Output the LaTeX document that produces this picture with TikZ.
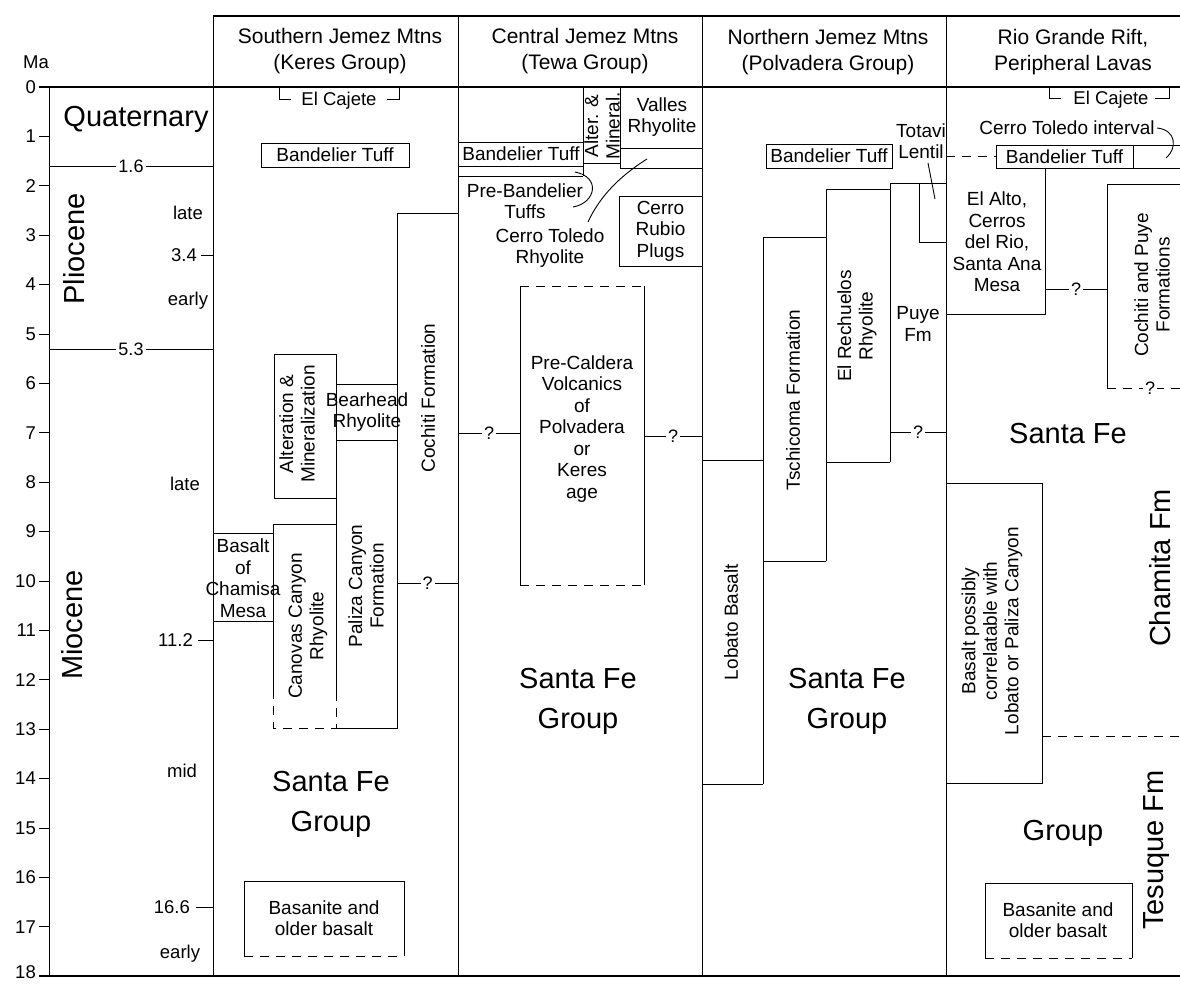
\documentclass[tikz,border=0pt]{standalone}
\usepackage{fontspec}
\setmainfont{Liberation Sans}
\newcommand{\myfs}[2]{\fontsize{#1}{#2}\selectfont}
\begin{document}
\begin{tikzpicture}[x=1pt,y=-1pt,
  ln/.style={line width=0.9pt},
  outl/.style={line width=1.4pt},
  dsh/.style={line width=0.9pt,dash pattern=on 9pt off 7pt},
  lbl/.style={font=\myfs{19}{21.5},align=center,inner sep=0pt},
  smt/.style={font=\myfs{18.5}{20},inner sep=0pt},
  bigt/.style={font=\myfs{29}{40},align=center,inner sep=0pt},
  hdr/.style={font=\myfs{21}{26},align=center,inner sep=0pt},
  qm/.style={fill=white,inner sep=2pt,font=\myfs{18}{20}},
  boxed/.style={lbl,draw,line width=0.9pt}
]
\useasboundingbox[fill=white] (0,0) rectangle (1180,984);

% ---------- frame ----------
\draw[outl] (213,16) -- (1180,16);
\draw[outl] (39,87) -- (1180,87);
\draw[outl] (39,976) -- (1180,976);
\draw[ln] (49,87) -- (49,976);
\foreach \x in {213,458,702,946} \draw[ln] (\x,16) -- (\x,976);

% ---------- headers ----------
\node[hdr] (h1) at (340,51) {Southern Jemez Mtns\\(Keres Group)};
\node[hdr] (h2) at (585,51) {Central Jemez Mtns\\(Tewa Group)};
\node[hdr] (h3) at (828,52) {Northern Jemez Mtns\\(Polvadera Group)};
\node[hdr] (h4) at (1073,52) {Rio Grande Rift,\\Peripheral Lavas};

% ---------- Ma axis ----------
\node[smt] (ma) at (36,62) {Ma};
\foreach \m in {0,...,17} {
  \draw[ln] (39,{87+49.4*\m}) -- (49,{87+49.4*\m});
  \node[smt,anchor=east] (t\m) at (36,{87+49.4*\m}) {\m};
}
\draw[ln] (39,976) -- (49,976);
\node[smt,anchor=east] (t18) at (36,972) {18};

% ---------- epochs ----------
\node[bigt] (quat) at (136,119) {Quaternary};
\draw[ln] (49,166) -- node[qm] (b16) {1.6} (213,166);
\node[bigt,rotate=90] (plio) at (74,249) {Pliocene};
\node[smt] (late1) at (188,213) {late};
\draw[ln] (201,255) -- (213,255);
\node[smt,anchor=east] (b34) at (197,255) {3.4};
\node[smt] (early1) at (188,301) {early};
\draw[ln] (49,349) -- node[qm] (b53) {5.3} (213,349);
\node[smt] (late2) at (185,484) {late};
\node[bigt,rotate=90] (mio) at (72,625) {Miocene};
\draw[ln] (198,640) -- (213,640);
\node[smt,anchor=east] (b112) at (193,640) {11.2};
\node[smt] (mid) at (182,771) {mid};
\draw[ln] (196,907) -- (213,907);
\node[smt,anchor=east] (b166) at (190,907) {16.6};
\node[smt] (early2) at (180,954) {early};

% ---------- Southern Jemez ----------
\node[smt] (scaj) at (339,101) {El Cajete};
\draw[ln] (279,87) -- (279,99) -- (291,99);
\draw[ln] (387,99) -- (399,99) -- (399,87);
\node[boxed,minimum width=148pt,minimum height=24pt] (sbt) at (335,155) {Bandelier Tuff};
% Cochiti
\draw[ln] (458,213) -- (397,213) -- (397,728) -- (336,728);
\draw[ln] (397,583) -- node[qm] (sq1) {?} (458,583);
\node[lbl,rotate=90] (coch) at (428,398) {Cochiti Formation};
% Bearhead
\draw[ln] (336,384) -- (397,384);
\draw[ln] (336,440) -- (397,440);
\node[lbl] (bear) at (367,412) {Bearhead\\Rhyolite};
% Alteration
\draw[ln] (336,354) -- (274,354) -- (274,498) -- (336,498);
\draw[ln] (336,354) -- (336,692);
\draw[dsh] (336,692) -- (336,728);
\node[lbl,rotate=90] (alt) at (297,424) {Alteration \&\\Mineralization};
% Canovas
\draw[ln] (336,524) -- (273,524) -- (273,690);
\draw[dsh] (273,690) -- (273,728) -- (336,728);
\node[lbl,rotate=90] (can) at (308,626) {Canovas Canyon\\Rhyolite};
\node[lbl,rotate=90] (pal) at (366,586) {Paliza Canyon\\Formation};
% Basalt of Chamisa Mesa
\draw[ln] (213,533) -- (273,533);
\draw[ln] (213,621) -- (273,621);
\node[lbl] (cham) at (243,578) {Basalt\\of\\Chamisa\\Mesa};
\node[bigt] (ssf) at (331,804) {Santa Fe\\Group};
% Basanite
\draw[ln] (244,956) -- (244,881) -- (404,881) -- (404,956);
\draw[dsh] (244,956) -- (404,956);
\node[lbl] (sbas) at (324,918) {Basanite and\\older basalt};

% ---------- Central Jemez ----------
\draw[ln] (583,87) -- (583,176);
\draw[ln] (583,163) -- (620,163);
\draw[ln] (620,87) -- (620,168);
\node[lbl,rotate=90] (am) at (602,126) {Alter. \&\\Mineral.};
\draw[ln] (620,148) -- (702,148);
\draw[ln] (620,168) -- (702,168);
\node[lbl] (val) at (662,117) {Valles\\Rhyolite};
\draw[ln] (458,142) -- (583,142);
\draw[ln] (458,166) -- (583,166);
\draw[ln] (458,176) -- (583,176);
\node[lbl] (cbt) at (521,154) {Bandelier Tuff};
\node[lbl] (pbt) at (525,201) {Pre-Bandelier\\Tuffs};
\coordinate (pbs) at (573,207);
\coordinate (pbe) at (575,172);
\draw[ln] (pbs) .. controls (596,203) and (601,177) .. (pbe);
\node[lbl] (ctr) at (550,248) {Cerro Toledo\\Rhyolite};
\coordinate (cts) at (588,222);
\coordinate (cte) at (647,159);
\draw[ln] (cts) .. controls (600,196) and (620,176) .. (cte);
\node[boxed,minimum width=83pt,minimum height=70pt] (crp) at (660.5,231) {Cerro\\Rubio\\Plugs};
\draw[dsh] (520,286) -- (644,286);
\draw[dsh] (520,585) -- (644,585);
\draw[ln] (520,286) -- (520,585);
\draw[ln] (644,286) -- (644,585);
\node[lbl] (pcv) at (582,429) {Pre-Caldera\\Volcanics\\of\\Polvadera\\or\\Keres\\age};
\draw[ln] (458,433) -- node[qm] (cq1) {?} (520,433);
\draw[ln] (644,436) -- node[qm] (cq2) {?} (702,436);
\node[bigt] (csf) at (578,701) {Santa Fe\\Group};

% ---------- Northern Jemez ----------
\node[boxed,minimum width=126pt,minimum height=24pt] (nbt) at (829,156) {Bandelier Tuff};
\node[lbl] (tot) at (921,141) {Totavi\\Lentil};
\coordinate (tls) at (928,163);
\coordinate (tle) at (935,199);
\draw[ln] (tls) -- (tle);
\draw[ln] (890,462) -- (890,183) -- (946,183);
\draw[ln] (919,183) -- (919,242) -- (946,242);
\draw[ln] (826,561) -- (826,189) -- (890,189);
\draw[ln] (826,462) -- (890,462);
\draw[ln] (890,432) -- node[qm] (nq) {?} (946,432);
\node[lbl] (puye) at (918,324) {Puye\\Fm};
\node[lbl,rotate=90] (elr) at (857,326) {El Rechuelos\\Rhyolite};
\draw[ln] (763,784) -- (763,237) -- (826,237);
\draw[ln] (763,561) -- (826,561);
\node[lbl,rotate=90] (tsch) at (793,400) {Tschicoma Formation};
\draw[ln] (702,460) -- (763,460);
\draw[ln] (702,784) -- (763,784);
\node[lbl,rotate=90] (lob) at (731,622) {Lobato Basalt};
\node[bigt] (nsf) at (847,701) {Santa Fe\\Group};

% ---------- Rio Grande Rift ----------
\node[smt] (rcaj) at (1111,100) {El Cajete};
\draw[ln] (1049,87) -- (1049,98) -- (1061,98);
\draw[ln] (1155,98) -- (1169,98) -- (1169,87);
\node[lbl] (cti) at (1067,128) {Cerro Toledo interval};
\coordinate (cis) at (1157,128);
\coordinate (cie) at (1166,158);
\draw[ln] (cis) .. controls (1177,130) and (1177,149) .. (cie);
\draw[dsh] (946,156) -- (996,156);
\node[boxed,minimum width=137pt,minimum height=23pt] (rbt) at (1064.5,156.5) {Bandelier Tuff};
\draw[ln] (1133,145) -- (1180,145);
\draw[ln] (1133,168) -- (1180,168);
\draw[ln] (1045,168) -- (1045,314) -- (946,314);
\node[lbl] (alto) at (997,242) {El Alto,\\Cerros\\del Rio,\\Santa Ana\\Mesa};
\draw[ln] (1045,289) -- node[qm] (rq1) {?} (1107,289);
\draw[ln] (1180,184) -- (1107,184) -- (1107,388);
\draw[dsh] (1107,388) -- (1180,388);
\node[qm] (rq2) at (1150,388) {?};
\node[lbl,rotate=90] (cpf) at (1152,285) {Cochiti and Puye\\Formations};
\node[bigt] (rsf) at (1068,434) {Santa Fe};
\node[boxed,minimum width=96pt,minimum height=300pt] (bpc) at (994,633) {};
\node[lbl,rotate=90] (bpct) at (992,631) {Basalt possibly\\correlatable with\\Lobato or Paliza Canyon};
\draw[dsh] (1042,736) -- (1180,736);
\node[bigt,rotate=90] (cham2) at (1160,568) {Chamita Fm};
\node[bigt,rotate=90] (tes) at (1157,850) {Tesuque Fm};
\node[bigt] (rgr) at (1063,833) {Group};
\draw[ln] (985,958) -- (985,883) -- (1132,883) -- (1132,958);
\draw[dsh] (985,958) -- (1132,958);
\node[lbl] (rbas) at (1058,920) {Basanite and\\older basalt};
\end{tikzpicture}
\end{document}
